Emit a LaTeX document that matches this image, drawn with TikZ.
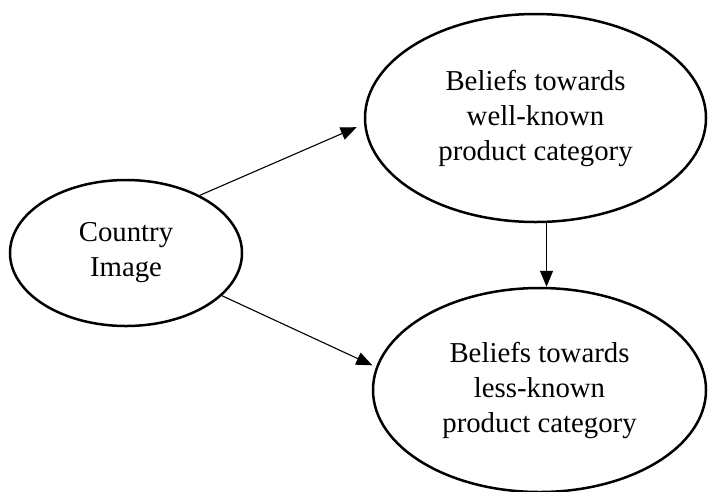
\documentclass[tikz,border=0pt]{standalone}
\usepackage{fontspec}
\setmainfont{Liberation Serif}
\usetikzlibrary{shapes.geometric,arrows.meta}
\begin{document}
\begin{tikzpicture}[x=1pt,y=-1pt,
  construct/.style={ellipse,draw,line width=2.5pt,inner sep=0pt,
    align=center,font=\fontsize{28.8}{35}\selectfont},
  link/.style={line width=1.1pt,-{Triangle[length=16pt,width=13pt]}}]
  \path[use as bounding box] (0,0) rectangle (708,491);
  % constructs
  \node[construct,minimum width=232pt,minimum height=146pt] (country) at (126,253)
    {Country\\Image};
  \node[construct,minimum width=341pt,minimum height=208pt] (wellknown) at (535.5,118)
    {Beliefs towards\\well-known\\product category};
  \node[construct,minimum width=333pt,minimum height=204pt] (lessknown) at (539.5,390)
    {Beliefs towards\\less-known\\product category};
  % paths
  \draw[link,shorten >=8pt] (country.38) -- (wellknown.182);
  \draw[link,shorten >=4pt] (country.-24) -- (lessknown.172);
  \draw[link] (wellknown.276) -- (wellknown.276 |- lessknown.north);
\end{tikzpicture}
\end{document}
